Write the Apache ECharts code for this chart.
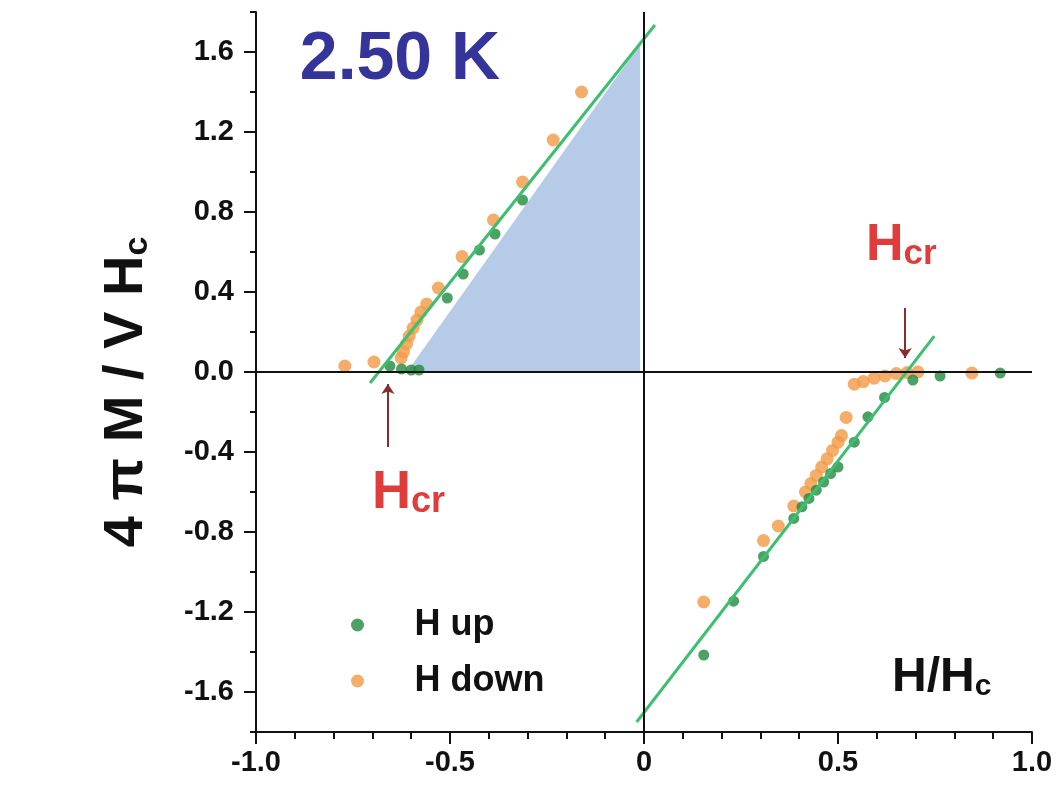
<!DOCTYPE html>
<html>
<head>
<meta charset="utf-8">
<script src="https://cdn.jsdelivr.net/npm/echarts@6/dist/echarts.min.js"></script>
<style>
  html, body { margin: 0; padding: 0; background: #fff; }
  #chart { width: 1060px; height: 792px; }
</style>
</head>
<body>
<div id="chart"></div>
<script>
// H up (green) points
const upH = [-0.313, -0.384, -0.424, -0.466, -0.507, -0.655, -0.625, -0.600, -0.580,
  0.154, 0.231, 0.308, 0.386, 0.407, 0.425, 0.444, 0.463, 0.481, 0.500, 0.542, 0.577, 0.620, 0.693, 0.763, 0.918]
const upM = [0.86, 0.69, 0.61, 0.49, 0.37, 0.03, 0.015, 0.01, 0.01,
  -1.415, -1.146, -0.922, -0.732, -0.674, -0.632, -0.591, -0.550, -0.508, -0.475, -0.351, -0.224, -0.127, -0.04, -0.02, -0.005]

// H down (orange) points
const downH = [-0.161, -0.234, -0.313, -0.388, -0.469, -0.530, -0.560, -0.575, -0.585, -0.595, -0.605, -0.612, -0.620, -0.626, -0.696, -0.771,
  0.154, 0.308, 0.346, 0.386, 0.416, 0.430, 0.444, 0.458, 0.472, 0.486, 0.500, 0.509, 0.521, 0.542, 0.565, 0.593, 0.621, 0.650, 0.678, 0.706, 0.845]
const downM = [1.40, 1.16, 0.95, 0.76, 0.577, 0.42, 0.34, 0.30, 0.26, 0.22, 0.18, 0.14, 0.10, 0.07, 0.05, 0.03,
  -1.15, -0.843, -0.77, -0.67, -0.60, -0.558, -0.517, -0.475, -0.434, -0.392, -0.351, -0.318, -0.227, -0.061, -0.048, -0.031, -0.02, -0.008, -0.003, 0.0, -0.005]

// straight-line fits (end points)
const fitLeftH = [-0.706, 0.028]
const fitLeftM = [-0.055, 1.735]
const fitRightH = [-0.019, 0.748]
const fitRightM = [-1.75, 0.179]

// shaded triangle edge
const areaH = [-0.611, -0.01]
const areaM = [0, 1.64]

const yTicks = [-1.6, -1.2, -0.8, -0.4, 0, 0.4, 0.8, 1.2, 1.6]

const zip = (a, b) => a.map((v, i) => [v, b[i]])

const font = 'Liberation Sans, Arial, sans-serif'
const chart = echarts.init(document.getElementById('chart'))

const option = {
  animation: false,
  backgroundColor: '#fff',
  grid: { left: 256, right: 28, top: 12, bottom: 60, containLabel: false, outerBoundsMode: 'none' },
  legend: {
    data: ['H up', 'H down'],
    orient: 'vertical',
    left: 346,
    top: 601,
    icon: 'circle',
    itemWidth: 104,
    itemHeight: 13,
    itemGap: 18,
    textStyle: { fontSize: 36, fontWeight: 'bold', fontFamily: font, color: '#111', lineHeight: 38 }
  },
  xAxis: {
    type: 'value',
    min: -1,
    max: 1,
    interval: 0.5,
    axisLine: { show: true, onZero: false, lineStyle: { color: '#111', width: 2 } },
    axisTick: { show: true, length: 12, lineStyle: { color: '#111', width: 2 } },
    minorTick: { show: true, splitNumber: 5, length: 7, lineStyle: { color: '#111', width: 2 } },
    splitLine: { show: false },
    axisLabel: {
      margin: 16,
      fontSize: 29,
      fontWeight: 'bold',
      fontFamily: font,
      color: '#111',
      formatter: (v) => (v === 0 ? '0' : v.toFixed(1))
    }
  },
  yAxis: [
    {
      type: 'value',
      position: 'left',
      min: -1.8,
      max: 1.8,
      interval: 0.2,
      axisLine: { show: true, onZero: false, lineStyle: { color: '#111', width: 2 } },
      axisTick: { show: true, length: 6, lineStyle: { color: '#111', width: 2 } },
      axisLabel: { show: false },
      splitLine: { show: false }
    },
    {
      type: 'value',
      position: 'left',
      offset: 0,
      min: -1.8,
      max: 1.8,
      interval: 0.2,
      axisLine: { show: false, onZero: false },
      axisTick: { show: true, customValues: yTicks, length: 12, lineStyle: { color: '#111', width: 2 } },
      axisLabel: {
        customValues: yTicks,
        margin: 22,
        fontSize: 29,
        fontWeight: 'bold',
        fontFamily: font,
        color: '#111',
        formatter: (v) => v.toFixed(1)
      },
      splitLine: { show: false }
    }
  ],
  series: [
    {
      name: 'area',
      type: 'line',
      z: 1,
      data: zip(areaH, areaM),
      symbol: 'none',
      lineStyle: { width: 0 },
      areaStyle: { color: '#b5cbe7', opacity: 1 },
      silent: true,
      markLine: {
        silent: true,
        symbol: 'none',
        label: { show: false },
        lineStyle: { color: '#111', width: 2, type: 'solid' },
        data: [
          { xAxis: 0 },
          { yAxis: 0 },
          [
            { coord: [-0.66, -0.375], symbol: 'none' },
            { coord: [-0.66, -0.06], symbol: 'arrow', symbolSize: 10, lineStyle: { color: '#8b2c2c', width: 2 } }
          ],
          [
            { coord: [0.673, 0.32], symbol: 'none' },
            { coord: [0.673, 0.07], symbol: 'arrow', symbolSize: 10, lineStyle: { color: '#8b2c2c', width: 2 } }
          ]
        ]
      }
    },
    {
      name: 'H up',
      type: 'scatter',
      z: 3,
      data: zip(upH, upM),
      symbol: 'circle',
      symbolSize: 11,
      itemStyle: { color: '#1f8a3d' }
    },
    {
      name: 'H down',
      type: 'scatter',
      z: 2,
      data: zip(downH, downM),
      symbol: 'circle',
      symbolSize: 13,
      itemStyle: { color: '#f39a45' }
    },
    {
      name: 'fit left',
      type: 'line',
      z: 4,
      data: zip(fitLeftH, fitLeftM),
      symbol: 'none',
      lineStyle: { color: '#3dbf6f', width: 3 }
    },
    {
      name: 'fit right',
      type: 'line',
      z: 4,
      data: zip(fitRightH, fitRightM),
      symbol: 'none',
      lineStyle: { color: '#3dbf6f', width: 3 }
    }
  ],
  graphic: [
    {
      type: 'text', x: 400, y: 60,
      style: { text: '2.50 K', fill: '#34349a', font: 'bold 68px ' + font, align: 'center', verticalAlign: 'middle' }
    },
    {
      type: 'text', x: 552, y: 297,
      style: { text: '1/2', fill: '#111', font: 'bold 54px ' + font, align: 'center', verticalAlign: 'middle' }
    },
    {
      type: 'text', x: 372, y: 493,
      style: {
        text: '{a|H}{b|cr}', align: 'left', verticalAlign: 'middle',
        rich: {
          a: { fontSize: 54, fontWeight: 'bold', fontFamily: font, fill: '#e03c3c' },
          b: { fontSize: 36, fontWeight: 'bold', fontFamily: font, fill: '#e03c3c', verticalAlign: 'bottom' }
        }
      }
    },
    {
      type: 'text', x: 866, y: 246,
      style: {
        text: '{a|H}{b|cr}', align: 'left', verticalAlign: 'middle',
        rich: {
          a: { fontSize: 52, fontWeight: 'bold', fontFamily: font, fill: '#e03c3c' },
          b: { fontSize: 35, fontWeight: 'bold', fontFamily: font, fill: '#e03c3c', verticalAlign: 'bottom' }
        }
      }
    },
    {
      type: 'text', x: 892, y: 678,
      style: {
        text: '{a|H/H}{b|c}', align: 'left', verticalAlign: 'middle',
        rich: {
          a: { fontSize: 48, fontWeight: 'bold', fontFamily: font, fill: '#111' },
          b: { fontSize: 30, fontWeight: 'bold', fontFamily: font, fill: '#111', verticalAlign: 'bottom' }
        }
      }
    },
    {
      type: 'text', x: 127, y: 392, rotation: Math.PI / 2,
      style: {
        text: '{a|4 π M / V H}{b|c}', align: 'center', verticalAlign: 'middle',
        rich: {
          a: { fontSize: 56, fontWeight: 'bold', fontFamily: font, fill: '#111' },
          b: { fontSize: 34, fontWeight: 'bold', fontFamily: font, fill: '#111', verticalAlign: 'bottom' }
        }
      }
    }
  ]
}

chart.setOption(option)
</script>
</body>
</html>
